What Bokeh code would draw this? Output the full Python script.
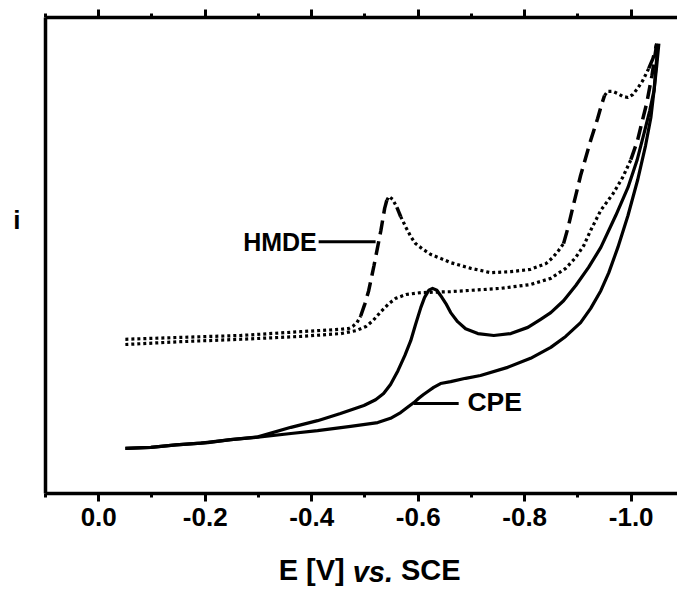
from bokeh.plotting import figure
from bokeh.models import Range1d, LinearAxis, FixedTicker, NumeralTickFormatter, Label, CustomJSTickFormatter
from bokeh.embed import file_html
from bokeh.resources import INLINE

# ---------------- data (E in V vs SCE, i in arbitrary units) ----------------
hmde_fwd_E = [-0.05, -0.154, -0.267, -0.379, -0.455, -0.470, -0.477, -0.485, -0.492, -0.500,
              -0.507, -0.517, -0.530, -0.537, -0.541, -0.545, -0.552, -0.560, -0.567, -0.577,
              -0.586, -0.595, -0.609, -0.624, -0.642, -0.661, -0.699, -0.736, -0.774, -0.811,
              -0.840, -0.853, -0.864, -0.873, -0.881, -0.890, -0.905, -0.924, -0.937, -0.945,
              -0.950, -0.956, -0.965, -0.975, -0.984, -0.994, -1.003, -1.012, -1.022, -1.033,
              -1.041, -1.048]
hmde_fwd_i = [32.4, 32.8, 33.2, 34.0, 34.5, 34.7, 35.1, 35.9, 37.3, 39.9,
              42.6, 47.9, 55.3, 59.9, 61.6, 62.4, 61.8, 60.1, 58.2, 55.9,
              54.0, 52.5, 51.3, 50.2, 49.4, 48.5, 47.3, 46.4, 46.6, 47.1,
              48.3, 49.6, 51.1, 52.5, 55.7, 59.9, 66.8, 74.2, 78.8, 81.9,
              83.6, 84.5, 84.5, 84.0, 83.4, 83.2, 83.8, 85.1, 86.8, 89.3,
              91.4, 94.5]

hmde_rev_E = [-1.048, -1.039, -1.029, -1.020, -1.012, -0.999, -0.984, -0.966, -0.943, -0.924,
              -0.911, -0.896, -0.877, -0.849, -0.811, -0.755, -0.661, -0.605, -0.577, -0.558,
              -0.545, -0.530, -0.515, -0.502, -0.483, -0.455, -0.379, -0.267, -0.154, -0.05]
hmde_rev_i = [94.5, 87.8, 81.9, 77.9, 74.2, 70.0, 66.4, 63.0, 59.5, 55.3,
              52.1, 49.6, 47.3, 45.2, 43.9, 43.1, 42.4, 42.2, 41.8, 41.0,
              39.9, 38.2, 36.3, 35.1, 34.2, 33.6, 33.0, 32.4, 31.9, 31.3]

cpe_peak_E = [-0.05, -0.098, -0.145, -0.192, -0.248, -0.299, -0.361, -0.411, -0.454, -0.498,
              -0.520, -0.535, -0.548, -0.562, -0.575, -0.586, -0.595, -0.605, -0.612, -0.620,
              -0.627, -0.635, -0.642, -0.652, -0.661, -0.674, -0.689, -0.712, -0.742, -0.774,
              -0.806, -0.830, -0.849, -0.873, -0.896, -0.920, -0.943, -0.971, -0.994, -1.011,
              -1.024, -1.035, -1.043, -1.046, -1.050]
cpe_peak_i = [9.5, 9.7, 10.2, 10.6, 11.3, 11.9, 13.9, 15.3, 16.8, 18.5,
              19.7, 21.0, 22.9, 25.8, 29.0, 32.1, 35.5, 39.1, 41.2, 42.7,
              43.1, 42.7, 41.6, 39.9, 38.0, 36.1, 34.6, 33.6, 33.2, 33.6,
              34.9, 36.6, 38.0, 40.5, 43.7, 47.5, 51.7, 58.4, 64.3, 70.0,
              75.6, 80.5, 84.7, 88.9, 94.1]

cpe_base_E = [-0.05, -0.098, -0.145, -0.205, -0.248, -0.295, -0.361, -0.411, -0.473, -0.524,
              -0.548, -0.567, -0.580, -0.592, -0.601, -0.610, -0.620, -0.629, -0.642, -0.661,
              -0.689, -0.717, -0.768, -0.811, -0.849, -0.877, -0.905, -0.924, -0.943, -0.958,
              -0.975, -0.994, -1.012, -1.027, -1.037, -1.044, -1.048, -1.052]
cpe_base_i = [9.5, 9.7, 10.2, 10.7, 11.3, 11.8, 12.6, 13.2, 14.1, 14.9,
              15.8, 17.0, 18.1, 19.1, 20.0, 20.8, 21.6, 22.3, 23.1, 23.5,
              24.2, 24.8, 26.5, 28.4, 30.7, 33.0, 35.9, 38.9, 42.6, 46.4,
              51.7, 58.4, 65.8, 73.1, 79.0, 85.7, 89.9, 94.5]

x_major_ticks = [0.0, -0.2, -0.4, -0.6, -0.8, -1.0]
x_minor_ticks = [0.1, -0.1, -0.3, -0.5, -0.7, -0.9]
y_label_pos = [57.4]          # where the "i" label sits on the current axis

# x-axis title, split so that "vs." can be italic: (text, centre position on the E axis)
x_title_upright = ["E [V]", "SCE"]
x_title_upright_pos = [-0.400, -0.6236]
x_title_italic = ["vs."]
x_title_italic_pos = [-0.5147]

# annotation anchors (E, i)
hmde_label = ("HMDE", -0.4095, 52.9)
hmde_leader_E = [-0.413, -0.520]
hmde_leader_i = [52.9, 52.9]
cpe_label = ("CPE", -0.6925, 19.3)
cpe_leader_E = [-0.592, -0.676]
cpe_leader_i = [18.9, 18.9]

# ---------------- figure ----------------
X0, X1 = 0.1, -1.087
Y0, Y1 = 0.0, 100.0
W, H = 677, 590
BL, BR, BT, BB = 45, 0, 17, 97

p = figure(width=W, height=H, x_range=Range1d(X0, X1), y_range=Range1d(Y0, Y1),
           output_backend="svg", toolbar_location=None,
           x_axis_location=None, y_axis_location=None,
           min_border_left=BL, min_border_right=BR, min_border_top=BT, min_border_bottom=BB)
p.grid.visible = False
p.outline_line_color = None
p.background_fill_color = "white"
p.border_fill_color = "white"

FONT = "Liberation Sans"

def make_xaxis(show_labels):
    ax = LinearAxis(ticker=FixedTicker(ticks=x_major_ticks, minor_ticks=x_minor_ticks))
    ax.axis_line_width = 3.5
    ax.axis_line_color = "black"
    ax.major_tick_line_width = 3
    ax.minor_tick_line_width = 3
    ax.major_tick_out = 8
    ax.major_tick_in = 0
    ax.minor_tick_out = 4
    ax.minor_tick_in = 0
    ax.major_label_text_font = FONT
    ax.major_label_text_font_style = "bold"
    ax.major_label_text_color = "black"
    ax.major_label_text_font_size = "26px"
    if show_labels:
        ax.formatter = NumeralTickFormatter(format="0.0")
        ax.major_label_standoff = 6
    else:
        ax.formatter = CustomJSTickFormatter(code="return ''")
        ax.major_label_standoff = 0
    return ax

p.add_layout(make_xaxis(True), "below")
p.add_layout(make_xaxis(False), "above")

def title_axis(texts, positions, style, standoff):
    ax = LinearAxis(ticker=FixedTicker(ticks=positions, minor_ticks=[]),
                    formatter=CustomJSTickFormatter(args=dict(labels=texts, pos=positions),
                                                    code="return labels[pos.indexOf(tick)] || ''"))
    ax.axis_line_color = None
    ax.major_tick_line_color = None
    ax.minor_tick_line_color = None
    ax.major_tick_out = 0
    ax.major_tick_in = 0
    ax.minor_tick_out = 0
    ax.minor_tick_in = 0
    ax.major_label_standoff = standoff
    ax.major_label_text_font = FONT
    ax.major_label_text_font_style = style
    ax.major_label_text_font_size = "29px"
    ax.major_label_text_color = "black"
    return ax

p.add_layout(title_axis(x_title_upright, x_title_upright_pos, "bold", 25), "below")
p.add_layout(title_axis(x_title_italic, x_title_italic_pos, "bold italic", -33), "below")

# left axis: plain line, its single (tick-less) label is the "i"
yax = LinearAxis(ticker=FixedTicker(ticks=y_label_pos, minor_ticks=[]),
                 formatter=CustomJSTickFormatter(code="return 'i'"))
yax.axis_line_width = 3.5
yax.major_tick_out = 0
yax.major_tick_in = 0
yax.minor_tick_out = 0
yax.minor_tick_in = 0
yax.major_label_standoff = 25
yax.major_label_text_font = FONT
yax.major_label_text_font_style = "bold"
yax.major_label_text_font_size = "26px"
yax.major_label_text_color = "black"
p.add_layout(yax, "left")

# screen scale used only to choose dash style for steep vs flat pieces
XS = (W - BL - BR) / abs(X1 - X0)
YS = (H - BT - BB) / abs(Y1 - Y0)

def styled_runs(E, I, thresh=2.3):
    runs = []
    for k in range(len(E) - 1):
        dx = abs(E[k + 1] - E[k]) * XS
        dy = abs(I[k + 1] - I[k]) * YS
        steep = dy > thresh * dx
        if runs and runs[-1][0] == steep:
            runs[-1][1].append(E[k + 1])
            runs[-1][2].append(I[k + 1])
        else:
            runs.append([steep, [E[k], E[k + 1]], [I[k], I[k + 1]]])
    return runs

for E, I in [(hmde_fwd_E, hmde_fwd_i), (hmde_rev_E, hmde_rev_i)]:
    for steep, xs, ys in styled_runs(E, I):
        if steep:
            p.line(xs, ys, line_color="black", line_width=3.5, line_dash="14 7", line_cap="butt")
        else:
            p.line(xs, ys, line_color="black", line_width=3.2, line_dash="3 3", line_cap="butt")

for E, I in [(cpe_peak_E, cpe_peak_i), (cpe_base_E, cpe_base_i)]:
    p.line(E, I, line_color="black", line_width=3.2, line_join="round")

# leaders
p.line(hmde_leader_E, hmde_leader_i, line_color="black", line_width=3)
p.line(cpe_leader_E, cpe_leader_i, line_color="black", line_width=3)

def lab(text, x, y, align="left", size="25px", style="bold"):
    p.add_layout(Label(x=x, y=y, text=text, text_font=FONT,
                       text_font_style=style, text_font_size=size, text_color="black",
                       text_align=align, text_baseline="middle"))

lab(hmde_label[0], hmde_label[1], hmde_label[2], align="right", size="25px")
lab(cpe_label[0], cpe_label[1], cpe_label[2], align="left", size="26.5px")

open("out.html", "w").write(file_html(p, INLINE))
